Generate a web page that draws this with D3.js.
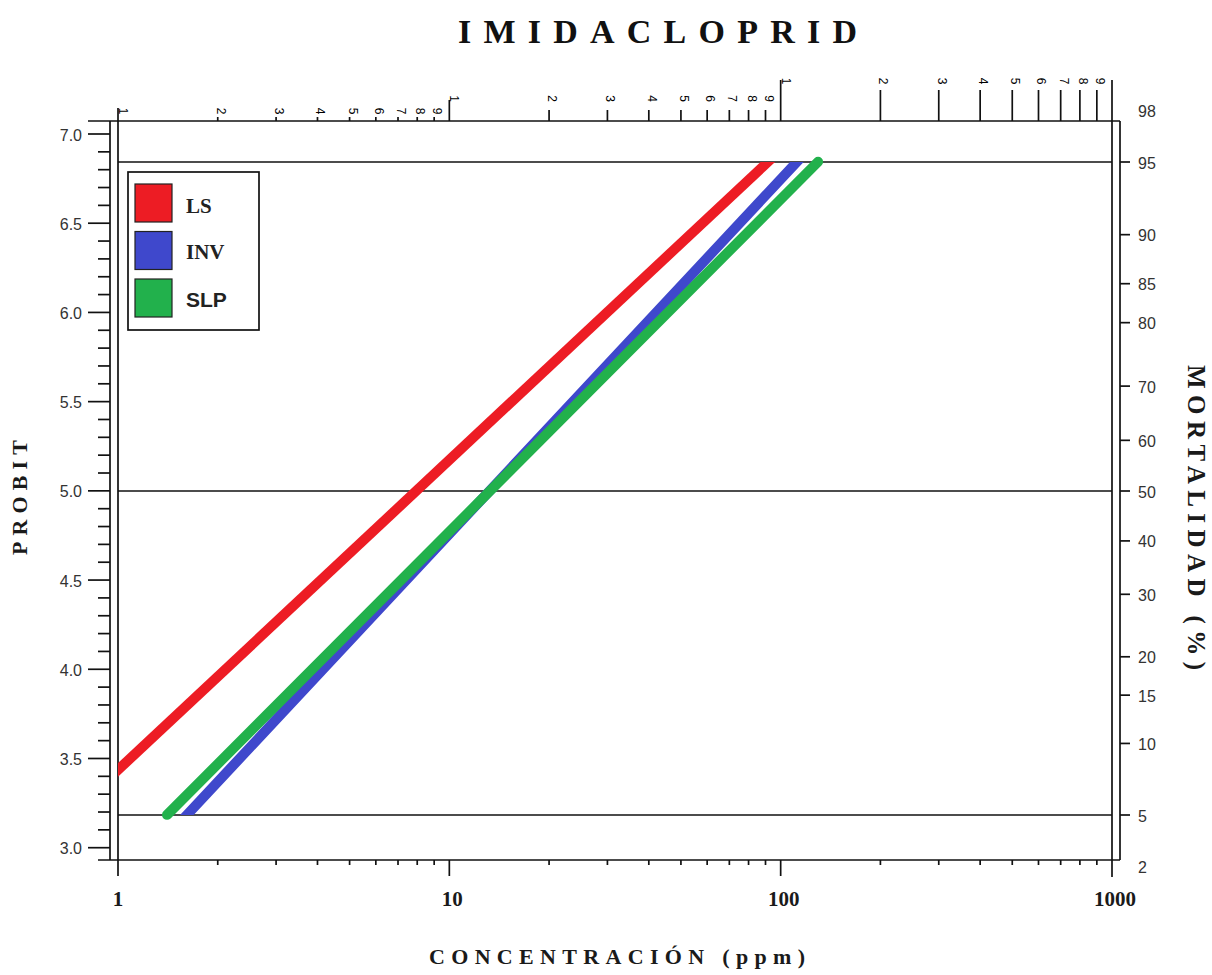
<!DOCTYPE html>
<html>
<head>
<meta charset="utf-8">
<script src="https://cdn.jsdelivr.net/npm/d3@7"></script>
<style>
  html, body { margin: 0; padding: 0; background: #fff; }
  svg { display: block; }
</style>
</head>
<body>
<svg id="chart" width="1212" height="975"></svg>
<script>
// ---------------- DATA ----------------
const chartTitle = "IMIDACLOPRID";
const xTitle = "CONCENTRACIÓN (ppm)";
const yLeftTitle = "PROBIT";
const yRightTitle = "MORTALIDAD (%)";

const seriesNames = ["LS", "INV", "SLP"];
// concentration (ppm) at line start / end
const seriesConc = [[1, 91.6], [1.615, 112], [1.406, 129.7]];
// probit (left axis) at line start / end
const seriesProbit = [[3.436, 6.844], [3.184, 6.844], [3.184, 6.844]];

const bottomTicks = [1, 10, 100, 1000];
const bottomLabels = ["1", "10", "100", "1000"];
const topDecades = [1, 10, 100];
const topDigits = [1, 2, 3, 4, 5, 6, 7, 8, 9];
const leftMajorTicks = [3.0, 3.5, 4.0, 4.5, 5.0, 5.5, 6.0, 6.5, 7.0];
const mortalityTicks = [95, 90, 85, 80, 70, 60, 50, 40, 30, 20, 15, 10, 5];
const mortalityEdgeLabels = ["98", "2"];
const referenceMortality = [5, 50, 95];

// ---------------- STYLE ----------------
const seriesColors = ["#ED1C24", "#3F48CC", "#22B14C"];
const serif = "'Liberation Serif', 'Times New Roman', serif";
const sans = "'Liberation Sans', Arial, sans-serif";

// ---------------- HELPERS ----------------
function probit(p) {
  const a=[-3.969683028665376e+01,2.209460984245205e+02,-2.759285104469687e+02,1.383577518672690e+02,-3.066479806614716e+01,2.506628277459239e+00];
  const b=[-5.447609879822406e+01,1.615858368580409e+02,-1.556989798598866e+02,6.680131188771972e+01,-1.328068155288572e+01];
  const c=[-7.784894002430293e-03,-3.223964580411365e-01,-2.400758277161838e+00,-2.549732539343734e+00,4.374664141464968e+00,2.938163982698783e+00];
  const d=[7.784695709041462e-03,3.224671290700398e-01,2.445134137142996e+00,3.754408661907416e+00];
  const pl = 0.02425, ph = 1 - pl; let q, r;
  if (p < pl) { q = Math.sqrt(-2*Math.log(p)); return (((((c[0]*q+c[1])*q+c[2])*q+c[3])*q+c[4])*q+c[5])/((((d[0]*q+d[1])*q+d[2])*q+d[3])*q+1); }
  if (p <= ph) { q = p - 0.5; r = q*q; return (((((a[0]*r+a[1])*r+a[2])*r+a[3])*r+a[4])*r+a[5])*q/(((((b[0]*r+b[1])*r+b[2])*r+b[3])*r+b[4])*r+1); }
  q = Math.sqrt(-2*Math.log(1-p)); return -(((((c[0]*q+c[1])*q+c[2])*q+c[3])*q+c[4])*q+c[5])/((((d[0]*q+d[1])*q+d[2])*q+d[3])*q+1);
}

// ---------------- LAYOUT ----------------
const plotL = 118, plotR = 1112, plotT = 121, plotB = 860;
const leftAxisX = 110, rightAxisX = 1120;

const x = d3.scaleLog().domain([1, 1000]).range([plotL, plotR]);
const yL = d3.scaleLinear().domain([3, 7]).range([847.7, 134]);
const zMort = p => probit(p / 100);
const yR = d3.scaleLinear().domain([zMort(5), 0, zMort(95)]).range([815, 491, 162]);

const svg = d3.select("#chart");
svg.append("rect").attr("width", 1212).attr("height", 975).attr("fill", "#fff");

const ink = "#111";
const lw = 1.7;

function line(x1, y1, x2, y2, w) {
  svg.append("line").attr("x1", x1).attr("y1", y1).attr("x2", x2).attr("y2", y2)
    .attr("stroke", ink).attr("stroke-width", w || lw);
}

// ---------------- FRAME ----------------
line(88, plotT, rightAxisX, plotT);          // top
line(98, plotB, rightAxisX, plotB);          // bottom
line(leftAxisX, plotT, leftAxisX, plotB);    // left axis line
line(plotL, 108, plotL, 876);                // left frame (also 1 tick)
line(rightAxisX, plotT, rightAxisX, plotB);  // right axis line
line(plotR, 80, plotR, 877);                 // right frame (also 1000 tick)

// reference lines (5%, 50%, 95%)
svg.append("g").selectAll("line").data(referenceMortality).join("line")
  .attr("x1", plotL).attr("x2", plotR)
  .attr("y1", d => yR(zMort(d))).attr("y2", d => yR(zMort(d)))
  .attr("stroke", ink).attr("stroke-width", lw);

// ---------------- LEFT AXIS ----------------
const minorVals = d3.range(30, 71).map(v => v / 10);
svg.append("g").selectAll("line").data(minorVals).join("line")
  .attr("x1", d => leftMajorTicks.some(m => Math.abs(m - d) < 1e-6) ? 88 : 98)
  .attr("x2", leftAxisX)
  .attr("y1", d => yL(d)).attr("y2", d => yL(d))
  .attr("stroke", ink).attr("stroke-width", lw);
svg.append("g").selectAll("text").data(leftMajorTicks).join("text")
  .attr("x", 82).attr("y", d => yL(d) + 1)
  .attr("text-anchor", "end").attr("dominant-baseline", "central")
  .attr("font-family", sans).attr("font-size", 16).attr("fill", "#333")
  .text(d => d3.format(".1f")(d));

// ---------------- RIGHT AXIS ----------------
svg.append("g").selectAll("line").data(mortalityTicks).join("line")
  .attr("x1", rightAxisX).attr("x2", rightAxisX + 10)
  .attr("y1", d => yR(zMort(d))).attr("y2", d => yR(zMort(d)))
  .attr("stroke", ink).attr("stroke-width", lw);
svg.append("g").selectAll("text").data(mortalityTicks).join("text")
  .attr("x", 1138).attr("y", d => yR(zMort(d)) + 1)
  .attr("dominant-baseline", "central")
  .attr("font-family", sans).attr("font-size", 16).attr("fill", "#333")
  .text(d => d);
svg.append("g").selectAll("text").data(mortalityEdgeLabels).join("text")
  .attr("x", 1138).attr("y", (d, i) => i === 0 ? plotT - 10 : plotB + 7)
  .attr("dominant-baseline", "central")
  .attr("font-family", sans).attr("font-size", 16).attr("fill", "#333")
  .text(d => d);

// ---------------- BOTTOM AXIS ----------------
const bottomMinor = [];
[1, 10, 100].forEach(dec => [2,3,4,5,6,7,8,9].forEach(k => bottomMinor.push(dec * k)));
svg.append("g").selectAll("line").data(bottomMinor).join("line")
  .attr("x1", d => x(d)).attr("x2", d => x(d))
  .attr("y1", plotB).attr("y2", plotB + 5)
  .attr("stroke", ink).attr("stroke-width", lw);
svg.append("g").selectAll("line").data(bottomTicks.slice(1, 3)).join("line")
  .attr("x1", d => x(d)).attr("x2", d => x(d))
  .attr("y1", plotB).attr("y2", plotB + 16)
  .attr("stroke", ink).attr("stroke-width", lw);
svg.append("g").selectAll("text").data(bottomTicks).join("text")
  .attr("x", (d, i) => x(d) + (i === 0 ? 0 : 3)).attr("y", 906)
  .attr("text-anchor", "middle")
  .attr("font-family", serif).attr("font-weight", "bold").attr("font-size", 21).attr("fill", "#1a1a1a")
  .text((d, i) => bottomLabels[i]);

// ---------------- TOP AXIS (log cycles) ----------------
const topLabelY = [111, 98.5, 81];
const topTickTop = [117, 110, 90];
const topMajorTop = [108, 100, 80];
const topData = [];
topDecades.forEach((dec, ci) => topDigits.forEach(k => topData.push({ v: dec * k, k, ci })));
svg.append("g").selectAll("line").data(topData.filter(d => !(d.ci === 0 && d.k === 1))).join("line")
  .attr("x1", d => x(d.v)).attr("x2", d => x(d.v))
  .attr("y1", plotT).attr("y2", d => d.k === 1 ? topMajorTop[d.ci] : topTickTop[d.ci])
  .attr("stroke", ink).attr("stroke-width", lw);
svg.append("g").selectAll("text").data(topData).join("text")
  .attr("transform", d => `translate(${x(d.v) + (d.k === 1 ? 1 : -1)},${topLabelY[d.ci]}) rotate(90)`)
  .attr("text-anchor", "middle")
  .attr("font-family", sans).attr("font-size", 12).attr("fill", "#000")
  .text(d => d.k);

// ---------------- SERIES ----------------
const defs = svg.append("defs");
defs.append("clipPath").attr("id", "band")
  .append("rect").attr("x", plotL).attr("y", yR(zMort(95)))
  .attr("width", plotR - plotL).attr("height", yR(zMort(5)) - yR(zMort(95)));

const lineGen = d3.line().x(d => x(d[0])).y(d => yL(d[1]));
const seriesData = seriesNames.map((name, i) => ({
  name, color: seriesColors[i],
  pts: seriesConc[i].map((c, j) => [c, seriesProbit[i][j]])
}));
const gSeries = svg.append("g");
seriesData.forEach((s, i) => {
  const p = gSeries.append("path").attr("d", lineGen(s.pts))
    .attr("fill", "none").attr("stroke", s.color).attr("stroke-width", 10);
  if (i < 2) p.attr("stroke-linecap", "square").attr("clip-path", "url(#band)");
  else p.attr("stroke-linecap", "round");
});

// ---------------- LEGEND ----------------
const lg = svg.append("g");
lg.append("rect").attr("x", 128).attr("y", 172).attr("width", 131).attr("height", 158)
  .attr("fill", "#fff").attr("stroke", ink).attr("stroke-width", 1.7);
const legendFonts = [serif, serif, sans];
const item = lg.selectAll("g.item").data(seriesData).join("g")
  .attr("class", "item")
  .attr("transform", (d, i) => `translate(135,${184 + i * 47.5})`);
item.append("rect").attr("width", 37).attr("height", 38)
  .attr("fill", d => d.color).attr("stroke", "#222").attr("stroke-width", 1.2);
item.append("text").attr("x", 51).attr("y", (d, i) => [28.5, 27, 27.5][i])
  .attr("font-family", (d, i) => legendFonts[i]).attr("font-weight", "bold")
  .attr("font-size", (d, i) => i === 2 ? 21 : 21).attr("fill", "#222")
  .text(d => d.name);

// ---------------- TITLES ----------------
svg.append("text").attr("x", 458).attr("y", 43)
  .attr("font-family", serif).attr("font-weight", "bold").attr("font-size", 34).attr("fill", "#111")
  .attr("textLength", 399).attr("lengthAdjust", "spacing")
  .text(chartTitle);
svg.append("text").attr("x", 429).attr("y", 964)
  .attr("font-family", serif).attr("font-weight", "bold").attr("font-size", 22).attr("fill", "#1a1a1a")
  .attr("textLength", 376).attr("lengthAdjust", "spacing")
  .text(xTitle);
svg.append("text").attr("transform", "translate(26.5,555) rotate(-90)")
  .attr("font-family", serif).attr("font-weight", "bold").attr("font-size", 22).attr("fill", "#1a1a1a")
  .attr("textLength", 115).attr("lengthAdjust", "spacing")
  .text(yLeftTitle);
svg.append("text").attr("transform", "translate(1188,365) rotate(90)")
  .attr("font-family", serif).attr("font-weight", "bold").attr("font-size", 25).attr("fill", "#1a1a1a")
  .attr("textLength", 305).attr("lengthAdjust", "spacing")
  .text(yRightTitle);
</script>
</body>
</html>
